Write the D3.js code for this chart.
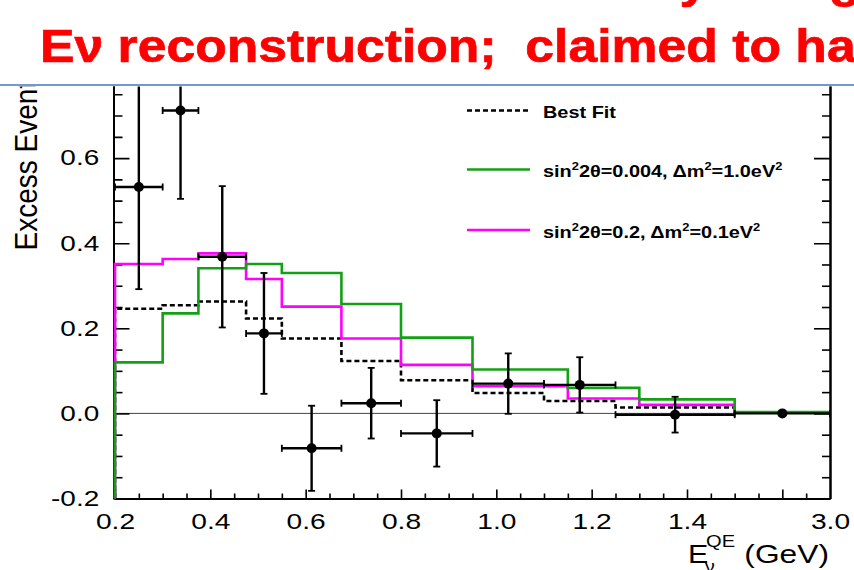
<!DOCTYPE html>
<html><head><meta charset="utf-8">
<script src="https://cdn.jsdelivr.net/npm/d3@7"></script>
<style>
html,body{margin:0;padding:0;background:#fff;}
svg{display:block;}
text{font-family:"Liberation Sans",Arial,Helvetica,sans-serif;white-space:pre;}
</style></head><body>
<svg id="chart" width="854" height="570"></svg>
<script>
// Bin edges (GeV) for the measured excess and for the predicted spectra
const dataEdges  = [0.2, 0.3, 0.375, 0.475, 0.55, 0.675, 0.8, 0.95, 1.1, 1.25, 1.5, 3.0];
const modelEdges = [0.2, 0.3, 0.375, 0.475, 0.55, 0.675, 0.8, 0.95, 1.15, 1.3, 1.5, 3.0];

// Measured excess events per bin with symmetric errors
const dataCenters = [0.25, 0.3375, 0.425, 0.5125, 0.6125, 0.7375, 0.875, 1.025, 1.175, 1.375, 2.25];
const excess      = [0.532, 0.712, 0.368, 0.188, -0.082, 0.024, -0.047, 0.070, 0.067, -0.003, 0.0];
const excessErr   = [0.240, 0.208, 0.166, 0.142, 0.100, 0.083, 0.078, 0.071, 0.065, 0.042, 0.006];

// Predicted spectra
const bestFit  = [0.246, 0.254, 0.263, 0.223, 0.176, 0.123, 0.078, 0.048, 0.029, 0.014, 0.002];
const sinA     = [0.120, 0.235, 0.341, 0.351, 0.330, 0.257, 0.178, 0.103, 0.060, 0.033, 0.003];
const sinB     = [0.351, 0.363, 0.376, 0.316, 0.251, 0.176, 0.114, 0.064, 0.035, 0.020, 0.002];

// Axis ticks and labels
const xLabelValues = [0.2, 0.4, 0.6, 0.8, 1.0, 1.2, 1.4, 3.0];
const xLabelText   = ["0.2", "0.4", "0.6", "0.8", "1.0", "1.2", "1.4", "3.0"];
const xMajorTicks  = [0.2, 0.4, 0.6, 0.8, 1.0, 1.2, 1.4, 2.25];
const xMinorTicks  = [0.25, 0.3, 0.35, 0.45, 0.5, 0.55, 0.65, 0.7, 0.75, 0.85, 0.9, 0.95,
                      1.05, 1.1, 1.15, 1.25, 1.3, 1.35, 1.45, 1.5, 1.875, 2.625];
const yLabelValues = [-0.2, 0.0, 0.2, 0.4, 0.6];
const yLabelText   = ["-0.2", "0.0", "0.2", "0.4", "0.6"];
const yMajorTicks  = [-0.2, 0.0, 0.2, 0.4, 0.6, 0.8];
const yMinorTicks  = d3.range(-0.15, 0.8, 0.05).filter(v => Math.abs(Math.round(v * 20) % 4) !== 0);

const legendItems = [
  {key: "best", label: "Best Fit"},
  {key: "a", label: ["sin", "2", "2θ=0.004, Δm", "2", "=1.0eV", "2"]},
  {key: "b", label: ["sin", "2", "2θ=0.2, Δm", "2", "=0.1eV", "2"]}
];

const COLORS = {best: "#000", a: "#14a014", b: "#ff00ff"};
const FONT = '"Liberation Sans",Arial,Helvetica,sans-serif';

const svg = d3.select("#chart");
const plot = {left: 115, right: 830, top: 73, bottom: 498.5};

// Energy axis: linear up to 1.5 GeV, compressed last bin up to 3 GeV
const x = d3.scaleLinear()
  .domain([0.2, 1.5, 3.0])
  .range([plot.left, plot.left + (plot.right - plot.left) * 1.3 / 1.5, plot.right]);
const y = d3.scaleLinear().domain([-0.2, 0.8]).range([plot.bottom, plot.top]);

// ---- slide heading ----
function stretched(parent, px, py, sx, str, attrs) {
  const g = parent.append("g").attr("transform", `translate(${px},${py}) scale(${sx},1)`);
  const t = g.append("text").text(str);
  Object.entries(attrs || {}).forEach(([k, v]) => t.attr(k, v));
  return t;
}
const headStyle = {"font-size": 47, "font-weight": "bold", fill: "#ff0000",
                   stroke: "#ff0000", "stroke-width": 0.7};
stretched(svg, 648, -3, 1.1, "by using", headStyle);
stretched(svg, 40, 61.5, 1.1, "Eν reconstruction;  claimed to ha", headStyle);
svg.append("line").attr("x1", 0).attr("x2", 854).attr("y1", 85).attr("y2", 85)
  .attr("stroke", "#7099d0").attr("stroke-width", 2);

// ---- chart body, clipped under the heading rule ----
svg.append("defs").append("clipPath").attr("id", "below-rule")
  .append("rect").attr("x", 0).attr("y", 86.5).attr("width", 854).attr("height", 484);
const g = svg.append("g").attr("clip-path", "url(#below-rule)");

// zero line
g.append("line").attr("x1", x(0.2)).attr("x2", x(3.0)).attr("y1", y(0)).attr("y2", y(0))
  .attr("stroke", "#444").attr("stroke-width", 1);

// axes: frame with inward ticks
function styleAxis(sel) {
  sel.select(".domain").attr("stroke", "#000").attr("stroke-width", 2);
  sel.selectAll(".tick line").attr("stroke", "#000").attr("stroke-width", 1.6);
}
const axX = g.append("g").attr("transform", `translate(0,${plot.bottom})`);
axX.append("g").call(d3.axisBottom(x).tickValues(xMinorTicks).tickSize(-5).tickSizeOuter(0).tickFormat(""))
  .call(styleAxis);
axX.append("g").call(d3.axisBottom(x).tickValues(xMajorTicks).tickSize(-9).tickSizeOuter(0).tickFormat(""))
  .call(styleAxis);
const xLab = axX.append("g").call(d3.axisBottom(x).tickValues(xLabelValues).tickSize(0).tickPadding(15)
  .tickFormat((d, i) => xLabelText[i]));
xLab.select(".domain").remove();
xLab.selectAll("text").attr("font-size", 22).attr("font-family", FONT).attr("fill", "#000")
  .attr("transform", "scale(1.28,1)");

const axL = g.append("g").attr("transform", `translate(${plot.left - 1.5},0)`);
axL.append("g").call(d3.axisLeft(y).tickValues(yMinorTicks).tickSize(-9).tickSizeOuter(0).tickFormat(""))
  .call(styleAxis);
axL.append("g").call(d3.axisLeft(y).tickValues(yMajorTicks).tickSize(-16).tickSizeOuter(0).tickFormat(""))
  .call(styleAxis);
const yLab = axL.append("g").call(d3.axisLeft(y).tickValues(yLabelValues).tickSize(0).tickPadding(11)
  .tickFormat((d, i) => yLabelText[i]));
yLab.select(".domain").remove();
yLab.selectAll("text").attr("font-size", 21.5).attr("font-family", FONT).attr("fill", "#000")
  .attr("transform", "scale(1.3,1)");

const axR = g.append("g").attr("transform", `translate(${plot.right},0)`);
axR.append("g").call(d3.axisRight(y).tickValues(yMinorTicks).tickSize(-8).tickSizeOuter(0).tickFormat(""))
  .call(styleAxis);
axR.append("g").call(d3.axisRight(y).tickValues(yMajorTicks).tickSize(-16).tickSizeOuter(0).tickFormat(""))
  .call(styleAxis);

// ---- step histograms ----
function steps(edges, vals) {
  const pts = [[edges[0], -0.2]];
  vals.forEach((v, i) => { pts.push([edges[i], v], [edges[i + 1], v]); });
  return pts;
}
const stepLine = d3.line().x(d => x(d[0])).y(d => y(d[1]));
const series = [
  {key: "best", edges: dataEdges, vals: bestFit, dash: "5,3"},
  {key: "b", edges: modelEdges, vals: sinB, dash: null},
  {key: "a", edges: modelEdges, vals: sinA, dash: null}
];
g.selectAll("path.hist").data(series).join("path").attr("class", "hist")
  .attr("d", s => stepLine(steps(s.edges, s.vals)))
  .attr("fill", "none").attr("stroke", s => COLORS[s.key]).attr("stroke-width", 2.6)
  .attr("stroke-dasharray", s => s.dash).attr("stroke-linejoin", "miter");

// ---- data points with error bars ----
const pts = dataCenters.map((c, i) => ({
  c, v: excess[i], e: excessErr[i], lo: dataEdges[i], hi: dataEdges[i + 1]
}));
const cap = 3.5;
const pg = g.append("g").attr("stroke", "#000").attr("stroke-width", 2.4);
pts.forEach(p => {
  const cx = x(p.c), cy = y(p.v);
  const xl = x(p.lo), xh = x(p.hi), yt = y(p.v + p.e), yb = y(p.v - p.e);
  pg.append("line").attr("x1", xl).attr("x2", xh).attr("y1", cy).attr("y2", cy);
  pg.append("line").attr("x1", cx).attr("x2", cx).attr("y1", yt).attr("y2", yb);
  [xl, xh].forEach(xx => pg.append("line").attr("x1", xx).attr("x2", xx)
    .attr("y1", cy - cap).attr("y2", cy + cap).attr("stroke-width", 1.8));
  [yt, yb].forEach(yy => pg.append("line").attr("x1", cx - cap).attr("x2", cx + cap)
    .attr("y1", yy).attr("y2", yy).attr("stroke-width", 1.8));
});
g.selectAll("circle.pt").data(pts).join("circle").attr("class", "pt")
  .attr("cx", p => x(p.c)).attr("cy", p => y(p.v)).attr("r", 5).attr("fill", "#000");

// ---- legend ----
const legY = [110.5, 169.5, 230];
const leg = g.append("g");
legendItems.forEach((it, i) => {
  const s = series.find(d => d.key === it.key);
  leg.append("line").attr("x1", 467).attr("x2", 530).attr("y1", legY[i]).attr("y2", legY[i])
    .attr("stroke", COLORS[it.key]).attr("stroke-width", 2.6).attr("stroke-dasharray", s.dash);
  const t = stretched(leg, 543, legY[i] + 7.5, 1.17, "", {"font-size": 17, "font-weight": "bold", fill: "#000"});
  if (typeof it.label === "string") {
    t.text(it.label);
  } else {
    it.label.forEach((part, j) => {
      const sup = j % 2 === 1;
      t.append("tspan").text(part).attr("font-size", sup ? 11 : 17)
        .attr("dy", sup ? -7 : (j > 0 ? 7 : 0));
    });
  }
});

// ---- axis titles ----
const ty = g.append("g").attr("transform", "translate(36.5,250.5) scale(1.13,1) rotate(-90)");
ty.append("text").text("Excess Events").attr("font-size", 28).attr("fill", "#000");

stretched(g, 688, 563, 1.22, "E", {"font-size": 25, fill: "#000"});
stretched(g, 706, 546.5, 1.22, "QE", {"font-size": 16.5, fill: "#000"});
stretched(g, 705, 572, 1.22, "ν", {"font-size": 16, fill: "#000"});
stretched(g, 829, 563, 1.27, "(GeV)", {"font-size": 25, fill: "#000", "text-anchor": "end"});
</script>
</body></html>
